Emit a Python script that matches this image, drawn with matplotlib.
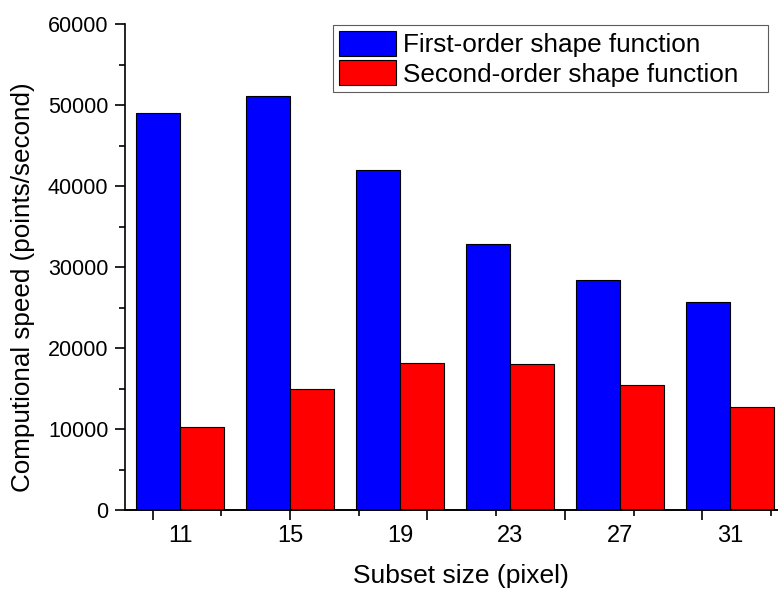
import numpy as np
import matplotlib
matplotlib.use("Agg")
import matplotlib.pyplot as plt

# data
subset_sizes = [11, 15, 19, 23, 27, 31]
first_order = [49000, 51100, 42000, 32800, 28400, 25700]
second_order = [10200, 15000, 18200, 18000, 15400, 12750]
series_labels = ["First-order shape function", "Second-order shape function"]

plt.rcParams['font.family'] = ['Liberation Sans', 'DejaVu Sans']

fig = plt.figure(figsize=(7.78, 5.89), dpi=100)
W, H = 778, 589
# axes box in pixels: left 125, right 785 (runs past the figure edge), bottom 510, top 24
ax = fig.add_axes([125 / W, (H - 510) / H, (785 - 125) / W, (510 - 24) / H])

bar_w = 1.6
x = np.array(subset_sizes, dtype=float)
ax.bar(x - bar_w / 2, first_order, width=bar_w, color='#0000ff',
       edgecolor='black', linewidth=0.8, label=series_labels[0])
ax.bar(x + bar_w / 2, second_order, width=bar_w, color='#ff0000',
       edgecolor='black', linewidth=0.8, label=series_labels[1])

ax.set_xlim(9, 33)
ax.set_ylim(0, 60000)

for side in ['top', 'right']:
    ax.spines[side].set_visible(False)
for side in ['left', 'bottom']:
    ax.spines[side].set_linewidth(1.2)

# y axis: majors every 10000, minors every 5000, ticks outward
ax.set_yticks(np.arange(0, 60001, 10000))
ax.set_yticks(np.arange(0, 60001, 5000), minor=True)
ax.tick_params(axis='y', which='major', direction='out', length=7, width=1.2,
               labelsize=15.5, pad=5)
ax.tick_params(axis='y', which='minor', direction='out', length=4.5, width=1.2)

# x labels sit at the group centres, with no tick marks of their own
ax.set_xticks(subset_sizes, [str(s) for s in subset_sizes])
ax.tick_params(axis='x', which='major', length=0, labelsize=17, pad=11)

# the tick marks themselves follow a plain numeric scale (10, 12.5, 15, ...)
sec = ax.secondary_xaxis('bottom')
sec.set_xticks(np.arange(10, 31, 5))
sec.set_xticks(np.arange(12.5, 33, 5), minor=True)
sec.tick_params(axis='x', which='major', direction='out', length=7, width=1.2,
                labelbottom=False)
sec.tick_params(axis='x', which='minor', direction='out', length=4.5, width=1.2)
sec.spines['bottom'].set_linewidth(1.2)

ax.set_xlabel("Subset size (pixel)", fontsize=19)
ax.xaxis.set_label_coords(0.509, -0.112)
ax.set_ylabel("Computional speed (points/second)", fontsize=18.7)
ax.yaxis.set_label_coords(-0.136, 0.459)

# legend box stretched to the reference frame: x 333..768, y 25..93 px
leg = ax.legend(loc='upper left',
                bbox_to_anchor=(333 / W, (H - 93) / H, 435 / W, 68 / H),
                bbox_transform=fig.transFigure, mode='expand', borderaxespad=0,
                fontsize=18.8, frameon=True, fancybox=False,
                handlelength=2.2, handleheight=1.1, handletextpad=0.25,
                labelspacing=0.12, borderpad=0.22)
leg.get_frame().set_edgecolor('#333333')
leg.get_frame().set_linewidth(0.8)

fig.savefig("out.png", dpi=100)
